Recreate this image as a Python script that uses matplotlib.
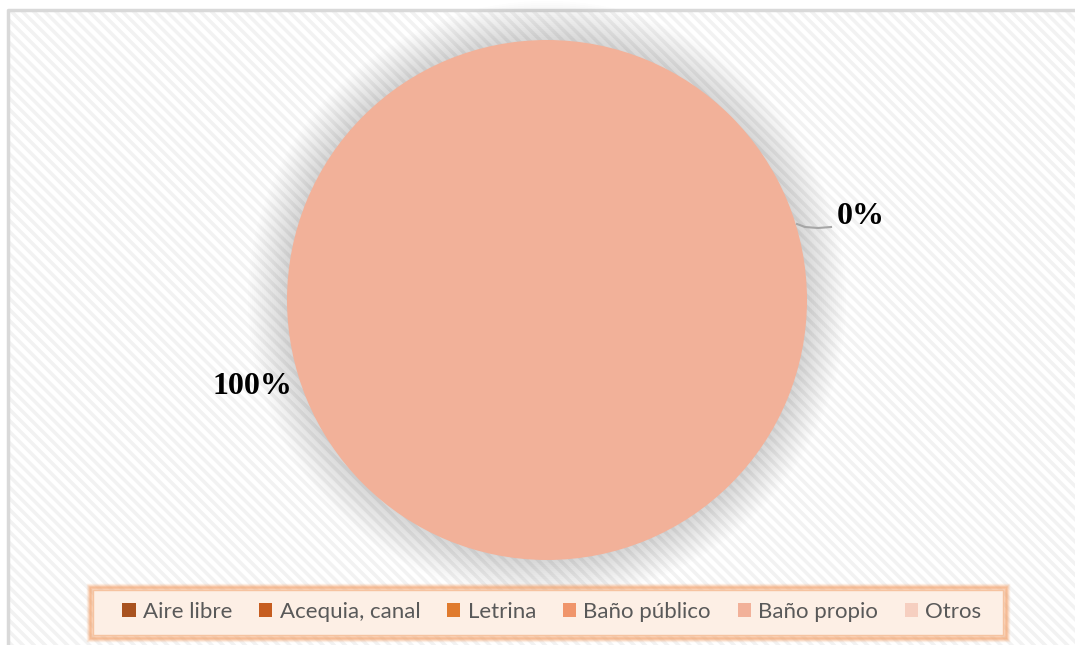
import matplotlib.pyplot as plt
from matplotlib.patches import Rectangle, Circle, Patch

categories = ['Aire libre', 'Acequia, canal', 'Letrina', 'Baño público', 'Baño propio', 'Otros']
values = [0, 0, 0, 0, 100, 0]
colors = ['#A9521F', '#C65D20', '#E07B2E', '#F0956B', '#F2B199', '#F6CFC0']
shown_labels = {'Baño propio': '100%', 'Otros': '0%'}

W, H = 1075, 645
fig = plt.figure(figsize=(W / 100, H / 100), dpi=100)
ax = fig.add_axes([0, 0, 1, 1])

# background with faint diagonal pattern and frame
plt.rcParams['hatch.linewidth'] = 2.5
ax.add_patch(Rectangle((8, 10), W, H, facecolor='white', edgecolor='#F2F2F2',
                       lw=0, hatch='\\\\\\', zorder=0))
ax.plot([8, 8, W], [H, 10, 10], color='#D9D9D9', lw=2.5, zorder=1)

# soft shadow around the pie
cx, cy, r = 547, 300, 260
for k in range(20):
    ax.add_patch(Circle((cx, cy), r + 1 + 2 * k, facecolor='#9A9A9A',
                        edgecolor='none', alpha=0.02, zorder=1))

wedges, _ = ax.pie(values, colors=colors, center=(cx, cy), radius=r,
                   startangle=90, counterclock=True,
                   wedgeprops=dict(linewidth=0))
for w in wedges:
    w.set_zorder(2)

# data labels
ax.text(252, 387, shown_labels['Baño propio'], family='Liberation Serif',
        fontweight='bold', fontsize=23, ha='center', va='center', zorder=3)
ax.text(861, 217, shown_labels['Otros'], family='Liberation Serif',
        fontweight='bold', fontsize=23, ha='center', va='center', zorder=3)
ax.plot([797, 805, 818, 831], [224, 227, 228, 227], color='#A6A6A6', lw=1.5, zorder=3)

ax.set_xlim(0, W)
ax.set_ylim(H, 0)
ax.set_aspect('equal')
ax.axis('off')

# legend box with orange glow
for k, a in enumerate([0.15, 0.22, 0.32, 0.45]):
    g = 5 - k
    ax.add_patch(Rectangle((93 - g, 590 - g), 910 + 2 * g, 45 + 2 * g,
                           facecolor='none', edgecolor='#F4A46E', lw=2.5,
                           alpha=a, zorder=3))
ax.add_patch(Rectangle((93, 590), 910, 45, facecolor='#FDEFE5',
                       edgecolor='#F6C3A0', lw=1, zorder=4))

handles = [Patch(facecolor=c, edgecolor='none') for c in colors]
leg = ax.legend(handles, categories, loc='center', ncol=6,
                bbox_to_anchor=(552 / W, 1 - 612 / H), bbox_transform=fig.transFigure,
                frameon=False, prop={'family': 'Lato', 'size': 16},
                handlelength=0.6, handleheight=0.6, handletextpad=0.33,
                columnspacing=1.2, labelcolor='#595959')
leg.set_zorder(5)

fig.savefig('out.png', dpi=100)
